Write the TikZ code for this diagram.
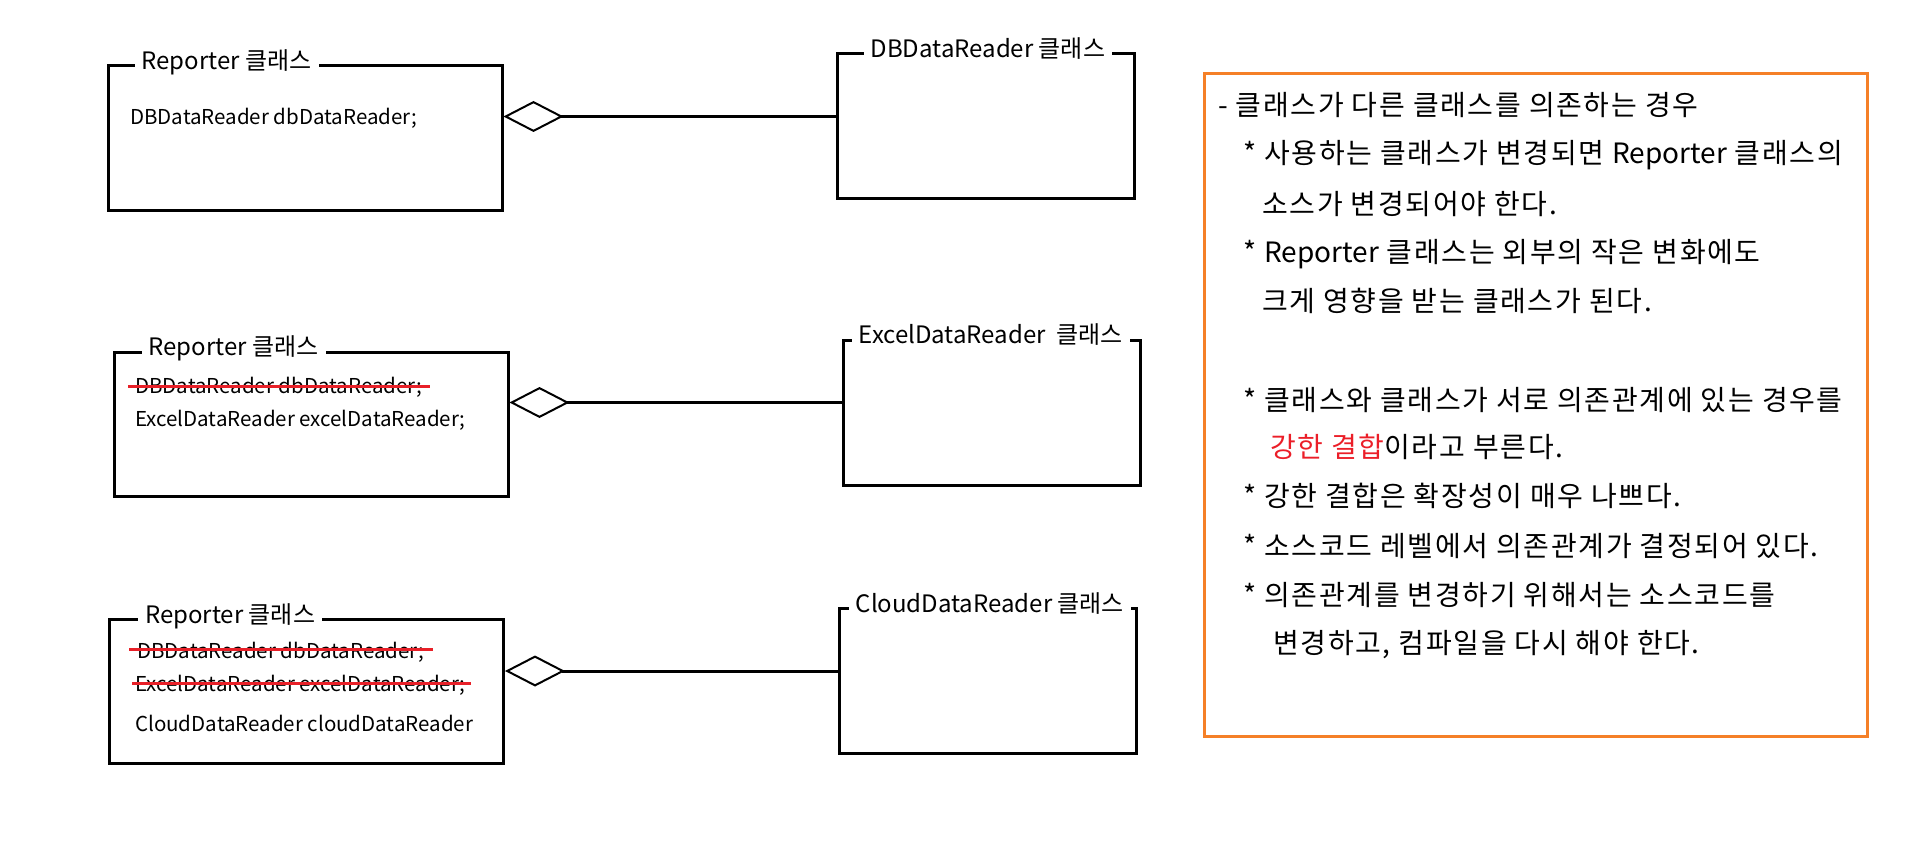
\documentclass[tikz,border=0pt]{standalone}
\usepackage{fontspec}
\setmainfont{Noto Sans CJK KR}
\newfontfamily\memofont[LetterSpace=6]{Noto Sans CJK KR}
\newcommand{\latinword}[1]{{\addfontfeature{LetterSpace=0}#1}}
\usetikzlibrary{positioning, calc, arrows.meta}
\definecolor{memoorange}{RGB}{245,128,40}
\definecolor{strikered}{RGB}{232,32,40}
\definecolor{keyred}{RGB}{235,30,40}

\tikzset{
	classbox/.style={draw, line width=3pt, minimum width=394pt, minimum height=144pt, inner sep=0pt},
	readerbox/.style={classbox, minimum width=297pt, minimum height=145pt},
	classname/.style={fill=white, inner xsep=7pt, inner ysep=0pt, anchor=west, font=\fontsize{24}{27}\selectfont},
	member/.style={anchor=west, inner sep=0pt, font=\fontsize{20.5}{24}\selectfont},
	strike/.style={draw=strikered, line width=3pt},
	aggr/.style={line width=3pt, {Diamond[open, length=60pt, width=31pt, line width=2pt]}-},
	memoline/.style={anchor=west, inner sep=0pt, font=\memofont\fontsize{28}{32}\selectfont}
}

\begin{document}
\begin{tikzpicture}[x=1pt, y=-1pt]
	\useasboundingbox (0,0) rectangle (1905,861);
	
	% reporter classes
	\node[classbox] (rep1) at (305,138) {};
	\node[classbox] (rep2) at (311,424) {};
	\node[classbox] (rep3) at (306.5,691.5) {};
	\node[classname] (rep1name) at ($(rep1.north west)+(28,-2)$) {Reporter 클래스};
	\node[classname] (rep2name) at ($(rep2.north west)+(29,-2)$) {Reporter 클래스};
	\node[classname] (rep3name) at ($(rep3.north west)+(30,-2)$) {Reporter 클래스};
	
	% reader classes
	\node[readerbox] (db) at (985.5,126.5) {};
	\node[readerbox] (excel) at (991.5,412.5) {};
	\node[readerbox] (cloud) at (987.5,680.5) {};
	\node[classname] (dbname) at ($(db.north west)+(28,-4)$) {DBDataReader 클래스};
	\node[classname] (excelname) at ($(excel.north west)+(10,-4)$) {ExcelDataReader\ \ 클래스};
	\node[classname] (cloudname) at ($(cloud.north west)+(11,-3)$) {CloudDataReader 클래스};
	
	% members
	\node[member] (m11) at (130,118) {DBDataReader dbDataReader;};
	\node[member] (m21) at (135,387) {DBDataReader dbDataReader;};
	\node[member] (m22) at (135,420) {ExcelDataReader excelDataReader;};
	\node[member] (m31) at (137,652) {DBDataReader dbDataReader;};
	\node[member] (m32) at (135,685) {ExcelDataReader excelDataReader;};
	\node[member] (m33) at (135,723) {CloudDataReader cloudDataReader};
	\draw[strike] ($(m21.west)+(-7,-1)$) -- ($(m21.east)+(8,-1)$);
	\draw[strike] ($(m31.west)+(-8,-3)$) -- ($(m31.east)+(9,-3)$);
	\draw[strike] ($(m32.west)+(-3,-2)$) -- ($(m32.east)+(5,-2)$);
	
	% aggregation
	\coordinate (a1) at ($(rep1.north east)+(0,52)$);
	\coordinate (a2) at ($(rep2.north east)+(0,52)$);
	\coordinate (a3) at ($(rep3.north east)+(0,53)$);
	\draw[aggr] (a1) -- (a1 -| db.west);
	\draw[aggr] (a2) -- (a2 -| excel.west);
	\draw[aggr] (a3) -- (a3 -| cloud.west);
	
	% memo
	\node[draw=memoorange, line width=3pt, minimum width=663pt, minimum height=662pt] (memo) at (1535.5,405) {};
	\node[memoline] (l1) at (1218,105) {- 클래스가 다른 클래스를 의존하는 경우};
	\node[memoline] (l2) at (1243,155) {* 사용하는 클래스가 변경되면 \latinword{Reporter} 클래스의};
	\node[memoline] (l3) at (1262,204) {소스가 변경되어야 한다.};
	\node[memoline] (l4) at (1243,254) {* \latinword{Reporter} 클래스는 외부의 작은 변화에도};
	\node[memoline] (l5) at (1262,301) {크게 영향을 받는 클래스가 된다.};
	\node[memoline] (l6) at (1243,400) {* 클래스와 클래스가 서로 의존관계에 있는 경우를};
	\node[memoline] (l7) at (1270,447) {{\color{keyred}강한 결합}이라고 부른다.};
	\node[memoline] (l8) at (1243,496) {* 강한 결합은 확장성이 매우 나쁘다.};
	\node[memoline] (l9) at (1243,546) {* 소스코드 레벨에서 의존관계가 결정되어 있다.};
	\node[memoline] (l10) at (1243,595) {* 의존관계를 변경하기 위해서는 소스코드를};
	\node[memoline] (l11) at (1273,645) {변경하고, 컴파일을 다시 해야 한다.};
\end{tikzpicture}
\end{document}
